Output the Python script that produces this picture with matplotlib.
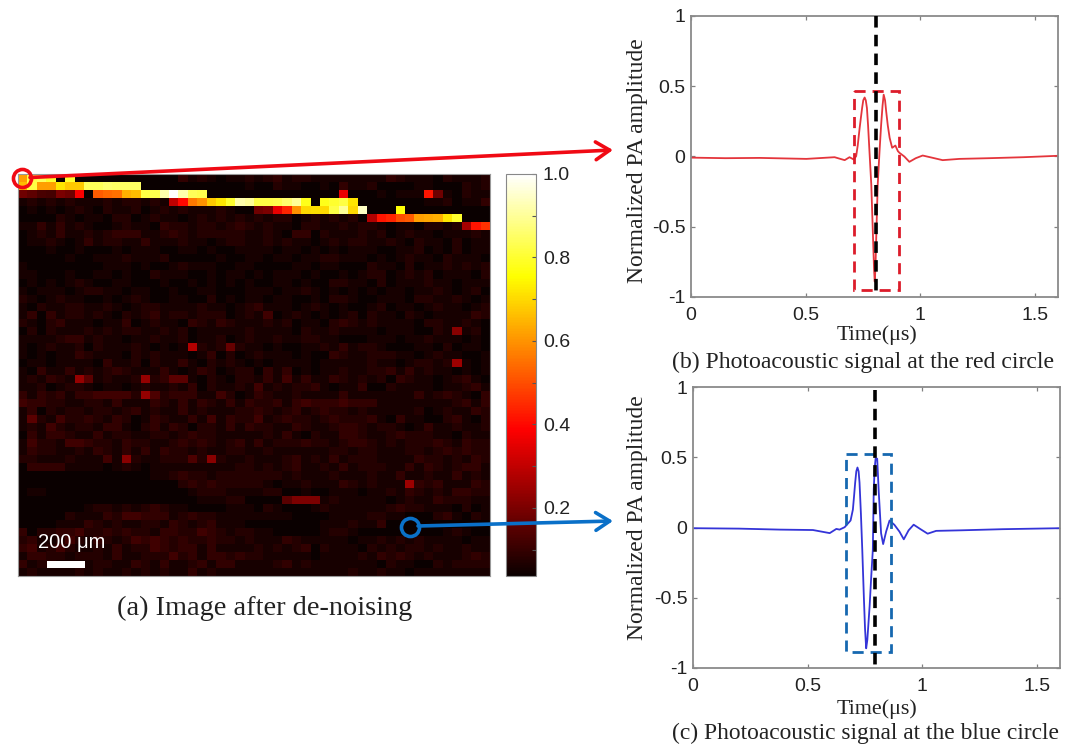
import matplotlib
matplotlib.use('Agg')
import numpy as np
import matplotlib.pyplot as plt

W, H = 1075, 748
SERIF = 'Liberation Serif'
SANS = 'Liberation Sans'

# background level of each pixel of the image, one digit per cell
background_rows = [
    "0000000000 0000000312 1011212312 2111111113 2111021112",
    "0000000000 0000000000 0000100211 0010311200 0011000212",
    "2110322134 0000000000 0000000000 0000000010 1112210211",
    "1212121112 1221211310 0000000000 0000000000 0001120113",
    "0101012102 1120121211 1210000002 0000000000 0000000000",
    "0000210110 2201211012 1212121220 1212120000 0000000000",
    "1131312100 1211032212 2123212110 2211212210 1102212000",
    "0121311212 3331123212 2222112103 3021112120 1211011121",
    "0112101312 2113111211 0122112121 1012122112 1021102011",
    "0001001000 1011100110 1001111011 0101011100 1120102011",
    "0000010011 1211120000 0100110110 1122111010 1211021110",
    "1000000001 1101001211 1001100001 1011000211 0201121212",
    "1100010011 0100211100 1011010111 0100101220 1212011102",
    "0101012100 1100010010 1010100110 1002211020 1112110111",
    "1011101221 1011001001 1000111011 2101010101 1011210120",
    "2101211001 0121001100 2010110110 0102210011 1022112101",
    "1021122112 1012211112 1101231110 1210100120 1101211012",
    "1303122121 0212312212 2201214012 1010120211 0210111132",
    "2102311101 1301211032 1321112120 1102321211 1102211210",
    "0202111212 1221121201 1111211110 2112111101 1100218120",
    "1111233121 1011211201 1201211211 2211000111 0112111010",
    "1012112021 1121010102 1272110100 1121312210 0011020110",
    "1010113211 1021211101 3020121110 1003211222 1101211001",
    "0110111103 1120211310 2121010111 1011111211 0122128101",
    "1031131212 3211131013 2012203130 1011211223 1312110101",
    "1213213612 1122236610 2102213141 3113212120 3211012310",
    "1120122101 1012112130 2112141212 2310113002 1111011231",
    "3132313344 4421523331 1420132112 1111311111 1131232103",
    "4332211221 3111321313 2131322313 4333433311 1111112313",
    "1302122122 1231211312 1112232123 1232212111 1120121132",
    "1621422321 3201321131 4132241232 2123222310 3110023102",
    "1214212213 3102313202 2131322113 2112332122 1013112112",
    "0313321131 2211221232 2111112131 0211332112 3222110211",
    "1422144322 1322112323 2123131222 3221233212 1222321322",
    "1322112132 1313132212 1122112111 1112212211 1221232322",
    "2211121114 1621122252 1211211123 1213122211 1132212132",
    "0333311110 1210111111 1112212123 1121312221 1313212331",
    "0000000000 0000112322 1222222212 1112111211 3112113121",
    "0000000000 0000000232 3222221011 2111321211 1132311132",
    "0110000000 0000000012 2211112200 1001110112 1321213322",
    "0000000000 0000000001 1122000066 6112111110 1211322211",
    "0000000122 1212321100 0011102100 0121111112 3221110201",
    "0000021113 2443331232 2111111110 0001111221 1000231021",
    "0000111321 2112213212 3111000000 0011121130 0000000000",
    "3022334223 2322133224 3212211000 0012210000 0000012100",
    "2311242132 1243432322 3221211132 1111101121 2121111011",
    "3412421121 3122432331 3111121212 3021110212 1221211211",
    "1332212221 3112224231 3323221111 1011112132 3212111232",
    "3122111122 1132131123 1331111231 2111111102 1100212222",
    "1211112121 1212121131 2111111111 1111121121 1011111111",
]

# hot pixels along the vessel: (row, first column, values)
ridge_segments = [
    (0, 0, [0.62, 0.82, 0.84, 0.80, 0.03, 0.80]),
    (1, 0, [0.66, 0.82, 0.62, 0.62, 0.72, 0.68, 0.68,
            0.84, 0.84, 0.86, 0.85, 0.85, 0.85]),
    (2, 0, [0.18, 0.16, 0.13, 0.12, 0.20, 0.18, 0.38, 0.04,
            0.52, 0.54, 0.55, 0.64, 0.66, 0.82, 0.83, 0.92, 1.0, 0.92, 0.84, 0.83]),
    (2, 34, [0.36]),
    (2, 43, [0.42, 0.18]),
    (3, 16, [0.30, 0.40, 0.56, 0.60, 0.68, 0.72, 0.80, 0.92, 0.90,
              0.82, 0.82, 0.83, 0.86, 0.90, 0.78, 0.04,
              0.78, 0.80, 0.82, 0.72]),
    (4, 25, [0.18, 0.20, 0.36, 0.44, 0.60, 0.70, 0.71, 0.70,
              0.82, 0.90, 0.70, 0.94]),
    (4, 40, [0.76]),
    (5, 37, [0.28, 0.42, 0.44, 0.50, 0.52, 0.62, 0.63, 0.64, 0.72, 0.80]),
    (6, 47, [0.26, 0.42, 0.46]),
]

bright_cells = [(21, 18, 0.28), (25, 6, 0.24), (25, 13, 0.24), (27, 13, 0.24),
                (35, 11, 0.22), (35, 20, 0.22), (19, 46, 0.22), (23, 46, 0.25),
                (38, 41, 0.25), (40, 29, 0.2), (40, 30, 0.2), (40, 31, 0.2)]

cbar_ticks = [0.1, 0.2, 0.3, 0.4, 0.5, 0.6, 0.7, 0.8, 0.9, 1.0]
cbar_labels = ['', '0.2', '', '0.4', '', '0.6', '', '0.8', '', '1.0']

red_time = [0, 0.15, 0.3, 0.503, 0.626, 0.67, 0.691, 0.709, 0.72, 0.727, 0.735, 0.741, 0.746, 0.751, 0.757,
            0.762, 0.767, 0.772, 0.778, 0.786, 0.793, 0.798, 0.801, 0.804, 0.808, 0.814, 0.822, 0.829,
            0.835, 0.84, 0.846, 0.851, 0.858, 0.866, 0.877, 0.884, 0.891, 0.902, 0.909,
            0.93, 0.952, 0.98, 1.01, 1.05, 1.097, 1.17, 1.3, 1.45, 1.6]
red_amp = [-0.008, -0.012, -0.010, -0.017, -0.005, -0.026, -0.005, -0.021, 0.002, 0.08, 0.2, 0.28, 0.345, 0.40, 0.42,
           0.40, 0.345, 0.22, 0.038, -0.2, -0.55, -0.80, -0.89, -0.80, -0.55, -0.2, 0.04, 0.227,
           0.36, 0.44, 0.40, 0.32, 0.22, 0.133, 0.062, 0.07, 0.078, 0.038, 0.026,
           0.0, -0.038, -0.012, 0.007, -0.008, -0.026, -0.017, -0.012, -0.005, 0.005]

blue_time = [0, 0.2, 0.378, 0.523, 0.596, 0.625, 0.639, 0.661, 0.687, 0.697, 0.702, 0.707, 0.712, 0.717, 0.722,
             0.726, 0.732, 0.738, 0.745, 0.75, 0.755, 0.76, 0.765, 0.77, 0.777, 0.784, 0.788, 0.792, 0.796,
             0.803, 0.81, 0.82, 0.829, 0.842, 0.857, 0.878, 0.9,
             0.919, 0.94, 0.962, 0.99, 1.023, 1.06, 1.17, 1.35, 1.6]
blue_amp = [-0.005, -0.008, -0.015, -0.018, -0.04, -0.01, -0.015, 0.002, 0.05, 0.127, 0.22, 0.319, 0.40, 0.427, 0.40,
            0.319, 0.10, -0.16, -0.50, -0.72, -0.86, -0.80, -0.68, -0.56, -0.35, -0.16, 0.271, 0.42, 0.49,
            0.49, 0.247, -0.041, -0.118, -0.029, 0.05, 0.019, -0.029,
            -0.084, -0.02, 0.02, -0.01, -0.044, -0.024, -0.02, -0.012, -0.005]

time_ticks = [0, 0.5, 1, 1.5]
time_labels = ['0', '0.5', '1', '1.5']
amp_ticks = [-1, -0.5, 0, 0.5, 1]
amp_labels = ['-1', '-0.5', '0', '0.5', '1']


def build_image():
    img = np.array([[int(ch) for ch in row.replace(' ', '')] for row in background_rows], dtype=float)
    img = 0.037 + img * 0.019
    for row, col, values in ridge_segments:
        img[row, col:col + len(values)] = values
    for row, col, value in bright_cells:
        img[row, col] = value
    return img


def px_axes(fig, x0, y0, x1, y1, **kwargs):
    return fig.add_axes([x0 / W, 1 - y1 / H, (x1 - x0) / W, (y1 - y0) / H], **kwargs)


def signal_axes(fig, box, t, a, color):
    ax = px_axes(fig, *box)
    ax.plot(t, a, color=color, lw=1.3, solid_joinstyle='round')
    ax.set_xlim(0, 1.6)
    ax.set_ylim(-1, 1)
    ax.set_xticks(time_ticks, time_labels, fontsize=14, family=SANS, color='#222222')
    ax.set_yticks(amp_ticks, amp_labels, fontsize=14, family=SANS, color='#222222')
    ax.tick_params(direction='in', length=3, width=0.9, color='#808080', top=True, right=True)
    ax.tick_params(axis='x', pad=7)
    ax.tick_params(axis='y', pad=4)
    for spine in ax.spines.values():
        spine.set_color('#8a8a8a')
        spine.set_linewidth(1.3)
    return ax


def dashed_box(ax, x0, y0, x1, y1, color):
    ax.plot([x0, x1, x1, x0, x0], [y0, y0, y1, y1, y0], color=color, lw=2.0, dashes=(4, 2.5),
            dash_capstyle='butt', dash_joinstyle='miter')


def main():
    fig = plt.figure(figsize=(W / 100, H / 100), dpi=100)

    ax_img = px_axes(fig, 18, 174, 490, 576)
    im = ax_img.imshow(build_image(), cmap='hot', vmin=0.037, vmax=1.0, aspect='auto', interpolation='nearest')
    ax_img.set_xticks([])
    ax_img.set_yticks([])
    for spine in ax_img.spines.values():
        spine.set_color('#999999')

    cax = px_axes(fig, 506, 174, 536, 576)
    cbar = fig.colorbar(im, cax=cax)
    cbar.set_ticks(cbar_ticks, labels=cbar_labels)
    cbar.ax.tick_params(direction='in', length=3, width=0.8, color='#555555', labelsize=14, pad=5)
    for lab in cbar.ax.get_yticklabels():
        lab.set_family(SANS)
        lab.set_color('#222222')
    cbar.outline.set_edgecolor('#888888')

    signal_axes(fig, (691, 16, 1058, 297), red_time, red_amp, '#e4353c')
    signal_axes(fig, (693, 387, 1060, 668), blue_time, blue_amp, '#3434d8')

    # everything drawn over the panels, in pixel coordinates
    over = px_axes(fig, 0, 0, W, H, zorder=10)
    over.set_xlim(0, W)
    over.set_ylim(H, 0)
    over.axis('off')
    over.patch.set_alpha(0)

    dashed_box(over, 854, 91, 899, 290, '#dc1c2a')
    dashed_box(over, 846, 454, 891, 652, '#1668b0')
    over.plot([876, 876], [16, 293], color='black', lw=2.6, dashes=(3.2, 2))
    over.plot([875, 875], [390, 668], color='black', lw=2.6, dashes=(3.2, 2))

    red_head = dict(arrowstyle='->,head_length=0.5,head_width=0.32', color='#f00a14', lw=2.6, shrinkA=0, shrinkB=0, mutation_scale=20)
    blue_head = dict(arrowstyle='->,head_length=0.5,head_width=0.32', color='#0a70c8', lw=2.6, shrinkA=0, shrinkB=0, mutation_scale=20)
    over.annotate('', xy=(613, 150), xytext=(30, 177.5), arrowprops=red_head)
    over.annotate('', xy=(613, 521), xytext=(418, 526), arrowprops=blue_head)
    over.plot([22], [178], 'o', ms=13, mfc='none', mec='#f00a14', mew=2.6)
    over.plot([410], [527], 'o', ms=13, mfc='none', mec='#0a70c8', mew=2.6)

    over.text(72, 543, '200 μm', color='white', fontsize=14.5, family=SANS, ha='center', va='center')
    over.fill_between([47, 85], 561, 568, color='white', lw=0)

    over.text(265, 608, '(a) Image after de-noising', fontsize=20.4, family=SERIF, ha='center', va='center', color='#222222')
    over.text(863, 362, '(b) Photoacoustic signal at the red circle', fontsize=17.1, family=SERIF, ha='center', va='center', color='#222222')
    over.text(865, 733, '(c) Photoacoustic signal at the blue circle', fontsize=16.9, family=SERIF, ha='center', va='center', color='#222222')
    over.text(877, 335, 'Time(μs)', fontsize=15.8, family=SERIF, ha='center', va='center', color='#222222')
    over.text(877, 709, 'Time(μs)', fontsize=15.8, family=SERIF, ha='center', va='center', color='#222222')
    over.text(638, 161, 'Normalized PA amplitude', fontsize=17, family=SERIF, rotation=90, ha='center', va='center', color='#222222')
    over.text(638, 518, 'Normalized PA amplitude', fontsize=17, family=SERIF, rotation=90, ha='center', va='center', color='#222222')

    fig.savefig('out.png', dpi=100)


if __name__ == "__main__":
    main()
